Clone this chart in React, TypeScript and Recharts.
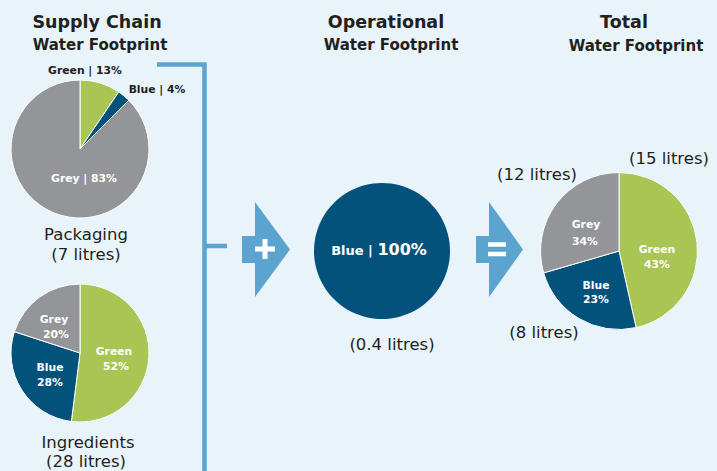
import { PieChart, Pie, Cell } from "recharts";

const SOURCES = ["Green", "Blue", "Grey"];
const COLORS: Record<string, string> = { Green: "#a9c554", Blue: "#02527b", Grey: "#939598" };

// slice shares as drawn in the picture
const packagingShare = [9.5, 3, 87.5];
const ingredientsShare = [52, 28, 20];
const operationalShare = [0, 100, 0];
const totalShare = [46.5, 24, 29.5];

const packagingLabels = ["13%", "4%", "83%"];
const ingredientsLabels = ["52%", "28%", "20%"];
const totalLabels = ["43%", "23%", "34%"];
const totalLitres = ["(15 litres)", "(8 litres)", "(12 litres)"];

const toRows = (vals: number[]) =>
  SOURCES.map((name, i) => ({ name, value: vals[i] })).filter((d) => d.value > 0);

const packagingData = toRows(packagingShare);
const ingredientsData = toRows(ingredientsShare);
const operationalData = toRows(operationalShare);
const totalData = toRows(totalShare);

const FONT = "'DejaVu Sans', 'Open Sans', sans-serif";
const DARK = "#231f20";
const ARROW = "#5ba4cf";

const bold = { fontFamily: FONT, fontWeight: 700 } as const;
const reg = { fontFamily: FONT, fontWeight: 400 } as const;

// two-line label kept in one text element
function TwoLine({ x, y, a, b, dx = 0, gap, size, fill, weight }: {
  x: number; y: number; a: string; b: string; dx?: number; gap: number; size: number; fill: string; weight: "bold" | "reg";
}) {
  return (
    <text x={x} y={y} textAnchor="middle" fontSize={size} fill={fill} style={weight === "bold" ? bold : reg}>
      <tspan x={x}>{a}</tspan>
      <tspan x={x + dx} dy={gap}>{b}</tspan>
    </text>
  );
}

function Overlay() {
  const H1 = 17.5;
  const H2 = 15;
  const BODY = 16.5;
  const SM = 10.8;
  return (
    <svg width={717} height={471} style={{ position: "absolute", left: 0, top: 0, pointerEvents: "none" }}>
      {/* headings */}
      <text textAnchor="middle" fill={DARK} style={bold}>
        <tspan x={97} y={28} fontSize={H1}>Supply Chain</tspan>
        <tspan x={100} y={50} fontSize={H2}>Water Footprint</tspan>
      </text>
      <text textAnchor="middle" fill={DARK} style={bold}>
        <tspan x={386} y={28} fontSize={H1}>Operational</tspan>
        <tspan x={391} y={50} fontSize={H2}>Water Footprint</tspan>
      </text>
      <text textAnchor="middle" fill={DARK} style={bold}>
        <tspan x={624} y={28} fontSize={H1}>Total</tspan>
        <tspan x={636} y={51} fontSize={H2}>Water Footprint</tspan>
      </text>

      {/* bracket */}
      <path d="M157 64.5 H204.5 V471 M204.5 246 H227" stroke={ARROW} strokeWidth={4.5} fill="none" />

      {/* plus arrow */}
      <path d="M242 236 H255 V202 L290 249.5 L255 297 V263 H242 Z" fill={ARROW} />
      <path d="M265 239 V259 M255 249 H275" stroke="#fff" strokeWidth={5} />
      {/* equals arrow */}
      <path d="M476 236 H489 V202 L523 249.5 L489 297 V263 H476 Z" fill={ARROW} />
      <path d="M488 244.5 H506 M488 254 H506" stroke="#fff" strokeWidth={4.5} />

      {/* packaging */}
      <text x={85} y={74} textAnchor="middle" fontSize={SM} fill={DARK} style={bold}>{`${SOURCES[0]} | ${packagingLabels[0]}`}</text>
      <text x={157} y={93} textAnchor="middle" fontSize={SM} fill={DARK} style={bold}>{`${SOURCES[1]} | ${packagingLabels[1]}`}</text>
      <text x={84} y={182} textAnchor="middle" fontSize={SM} fill="#fff" style={bold}>{`${SOURCES[2]} | ${packagingLabels[2]}`}</text>
      <TwoLine x={86} y={240} a="Packaging" b="(7 litres)" gap={20} size={BODY} fill={DARK} weight="reg" />

      {/* ingredients */}
      <TwoLine x={54} y={323} dx={2} a={SOURCES[2]} b={ingredientsLabels[2]} gap={15} size={SM} fill="#fff" weight="bold" />
      <TwoLine x={50} y={371} a={SOURCES[1]} b={ingredientsLabels[1]} gap={15} size={SM} fill="#fff" weight="bold" />
      <TwoLine x={114} y={355} dx={2} a={SOURCES[0]} b={ingredientsLabels[0]} gap={15} size={SM} fill="#fff" weight="bold" />
      <TwoLine x={88} y={447.5} dx={-2} a="Ingredients" b="(28 litres)" gap={19.5} size={BODY} fill={DARK} weight="reg" />

      {/* operational */}
      <text x={379} y={255} textAnchor="middle" fill="#fff" style={bold}>
        <tspan fontSize={13}>{`${SOURCES[1]} | `}</tspan>
        <tspan fontSize={16}>100%</tspan>
      </text>
      <text x={392} y={350} textAnchor="middle" fontSize={BODY} fill={DARK} style={reg}>(0.4 litres)</text>

      {/* total */}
      <text x={669} y={164} textAnchor="middle" fontSize={BODY} fill={DARK} style={reg}>{totalLitres[0]}</text>
      <text x={537} y={180} textAnchor="middle" fontSize={BODY} fill={DARK} style={reg}>{totalLitres[2]}</text>
      <text x={544} y={338} textAnchor="middle" fontSize={BODY} fill={DARK} style={reg}>{totalLitres[1]}</text>
      <TwoLine x={586} y={228} dx={-1} a={SOURCES[2]} b={totalLabels[2]} gap={17} size={SM} fill="#fff" weight="bold" />
      <TwoLine x={596} y={289} a={SOURCES[1]} b={totalLabels[1]} gap={14} size={SM} fill="#fff" weight="bold" />
      <TwoLine x={657} y={253} a={SOURCES[0]} b={totalLabels[0]} gap={15} size={SM} fill="#fff" weight="bold" />
    </svg>
  );
}

export default function App() {
  const pieProps = {
    dataKey: "value",
    startAngle: 90,
    endAngle: -270,
    stroke: "#ffffff",
    strokeWidth: 1,
    isAnimationActive: false,
  };
  return (
    <div style={{ position: "absolute", left: 0, top: 0, width: 717, height: 471, background: "#e8f3fa", overflow: "hidden" }}>
      <PieChart width={717} height={471} margin={{ top: 0, right: 0, bottom: 0, left: 0 }}>
        <Pie {...pieProps} data={packagingData} cx={80} cy={149} outerRadius={69}>
          {packagingData.map((d) => (
            <Cell key={d.name} fill={COLORS[d.name]} />
          ))}
        </Pie>
        <Pie {...pieProps} data={ingredientsData} cx={80} cy={353} outerRadius={69}>
          {ingredientsData.map((d) => (
            <Cell key={d.name} fill={COLORS[d.name]} />
          ))}
        </Pie>
        <Pie {...pieProps} data={operationalData} cx={382} cy={251} outerRadius={68} stroke="none">
          {operationalData.map((d) => (
            <Cell key={d.name} fill={COLORS[d.name]} />
          ))}
        </Pie>
        <Pie {...pieProps} data={totalData} cx={619} cy={251} outerRadius={78.5}>
          {totalData.map((d) => (
            <Cell key={d.name} fill={COLORS[d.name]} />
          ))}
        </Pie>
      </PieChart>
      <Overlay />
    </div>
  );
}
